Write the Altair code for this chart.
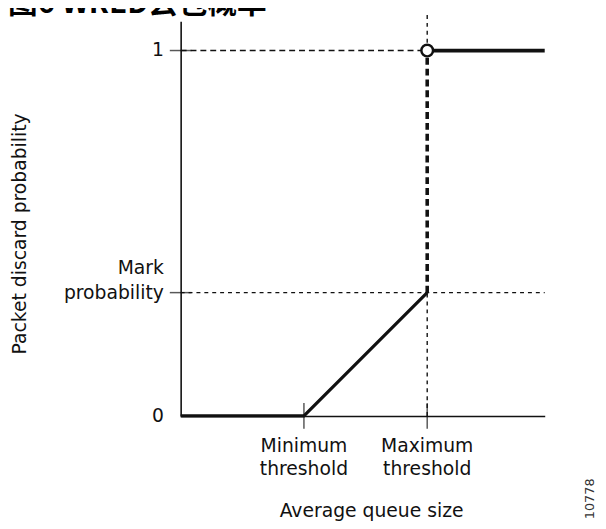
import altair as alt
import pandas as pd

# ---- text ----
TITLE = "图6 WRED丢包概率"
X_TITLE = "Average queue size"
Y_TITLE = "Packet discard probability"
FIG_ID = "10778"

# ---- values ----
queue_max = 44.3          # right end of the queue-size axis
min_threshold = 15
max_threshold = 30
mark_prob = 0.3375
prob_max = 1.0
y_top = 1.08
guide_top = 1.1

xtick_values = [min_threshold, max_threshold]
xtick_labels = ["Minimum\nthreshold", "Maximum\nthreshold"]
ytick_values = [0, mark_prob, prob_max]
ytick_labels = ["0", "Mark\nprobability", "1"]

# drop-probability curve pieces
ramp_x = [0, min_threshold, max_threshold]
ramp_y = [0, 0, mark_prob]
jump_x = [max_threshold, max_threshold]
jump_y = [mark_prob, prob_max]
full_x = [max_threshold, queue_max]
full_y = [prob_max, prob_max]

INK = "#111111"
FONT = "DejaVu Sans"

xs = alt.Scale(domain=[0, queue_max], nice=False, zero=False)
ys = alt.Scale(domain=[0, y_top], nice=False, zero=False)

x_axis = alt.Axis(title=X_TITLE, labels=False, ticks=False, grid=False,
                  domainColor=INK, domainWidth=1.6,
                  titleX=193, titleY=102, titleAlign="center", titleBaseline="alphabetic",
                  titleAngle=0, titleFont=FONT, titleFontSize=19,
                  titleFontWeight="normal", titleColor=INK)
y_axis = alt.Axis(title=Y_TITLE, labels=False, ticks=False, grid=False,
                  domainColor=INK, domainWidth=1.6,
                  titleX=-163, titleY=215, titleAlign="center", titleBaseline="middle",
                  titleAngle=270, titleFont=FONT, titleFontSize=19,
                  titleFontWeight="normal", titleColor=INK)


def X(f="x"):
    return alt.X(f"{f}:Q", scale=xs, axis=x_axis)


def Y(f="y"):
    return alt.Y(f"{f}:Q", scale=ys, axis=y_axis)


# guides
g1 = alt.Chart(pd.DataFrame({"x": [0], "x2": [max_threshold], "y": [prob_max]})).mark_rule(
    color=INK, strokeWidth=1.4, strokeDash=[6, 4]).encode(x=X(), x2="x2:Q", y=Y())
g2 = alt.Chart(pd.DataFrame({"x": [0], "x2": [queue_max], "y": [mark_prob]})).mark_rule(
    color=INK, strokeWidth=1.4, strokeDash=[4, 4]).encode(x=X(), x2="x2:Q", y=Y())
g3 = alt.Chart(pd.DataFrame({"x": [max_threshold, max_threshold],
                             "y": [0, prob_max], "y2": [mark_prob, guide_top]})).mark_rule(
    color=INK, strokeWidth=1.4, strokeDash=[4, 4]).encode(x=X(), y=Y(), y2="y2:Q")

# curve
ramp = alt.Chart(pd.DataFrame({"x": ramp_x, "y": ramp_y, "i": range(len(ramp_x))})).mark_line(
    color=INK, strokeWidth=3.2).encode(x=X(), y=Y(), order="i:Q")
jump = alt.Chart(pd.DataFrame({"x": jump_x, "y": jump_y, "i": range(len(jump_x))})).mark_line(
    color=INK, strokeWidth=3.6, strokeDash=[7, 4]).encode(x=X(), y=Y(), order="i:Q")
full = alt.Chart(pd.DataFrame({"x": full_x, "y": full_y, "i": range(len(full_x))})).mark_line(
    color=INK, strokeWidth=3.8).encode(x=X(), y=Y(), order="i:Q")
circ = alt.Chart(pd.DataFrame({"x": [max_threshold], "y": [prob_max]})).mark_point(
    shape="circle", filled=True, fill="white", stroke=INK, strokeWidth=2.5,
    size=140, opacity=1).encode(x=X(), y=Y())

# ticks
xt = alt.Chart(pd.DataFrame({"x": xtick_values, "y": [0] * len(xtick_values)})).mark_tick(
    orient="vertical", size=26, thickness=1.5, color=INK).encode(x=X(), y=Y())
yt_vals = [v for v in ytick_values if v > 0]
yt = alt.Chart(pd.DataFrame({"x": [0] * len(yt_vals), "y": yt_vals})).mark_tick(
    orient="horizontal", size=22, thickness=1.5, color=INK).encode(x=X(), y=Y())

# tick labels
xl = alt.Chart(pd.DataFrame({"x": xtick_values, "y": [0] * len(xtick_values),
                             "label": xtick_labels})).mark_text(
    align="center", baseline="top", dy=22, lineBreak="\n", lineHeight=23,
    font=FONT, fontSize=19, color=INK).encode(x=X(), y=Y(), text="label:N")

single = [(v, l) for v, l in zip(ytick_values, ytick_labels) if "\n" not in l]
multi = [(v, l) for v, l in zip(ytick_values, ytick_labels) if "\n" in l]
yl1 = alt.Chart(pd.DataFrame({"x": [0] * len(single), "y": [v for v, _ in single],
                              "label": [l for _, l in single]})).mark_text(
    align="right", baseline="middle", dx=-17, font=FONT, fontSize=19, color=INK
).encode(x=X(), y=Y(), text="label:N")
yl2 = alt.Chart(pd.DataFrame({"x": [0] * len(multi), "y": [v for v, _ in multi],
                              "label": [l for _, l in multi]})).mark_text(
    align="right", baseline="middle", dx=-17, dy=-25, lineBreak="\n", lineHeight=25,
    font=FONT, fontSize=19, color=INK
).encode(x=X(), y=Y(), text="label:N")

# title (cropped at the top edge, as in the source figure) and figure id
ttl = alt.Chart(pd.DataFrame({"t": [TITLE]})).mark_text(
    align="left", baseline="alphabetic", font="Noto Sans CJK SC", fontWeight="bold",
    fontSize=30, color="#000000").encode(x=alt.value(-175), y=alt.value(-8), text="t:N")
fid = alt.Chart(pd.DataFrame({"t": [FIG_ID]})).mark_text(
    align="center", baseline="middle", angle=270, font=FONT, fontSize=13,
    color="#333333").encode(x=alt.value(415), y=alt.value(484), text="t:N")

chart = alt.layer(g1, g2, g3, ramp, jump, full, circ, xt, yt, xl, yl1, yl2, ttl, fid).properties(
    width=369, height=400,
    padding={"left": 175, "top": 10, "right": 54, "bottom": 103},
    autosize=alt.AutoSizeParams(type="none"),
).configure_view(stroke=None)

chart.save("out.html", embed_options={"renderer": "svg", "actions": False})
